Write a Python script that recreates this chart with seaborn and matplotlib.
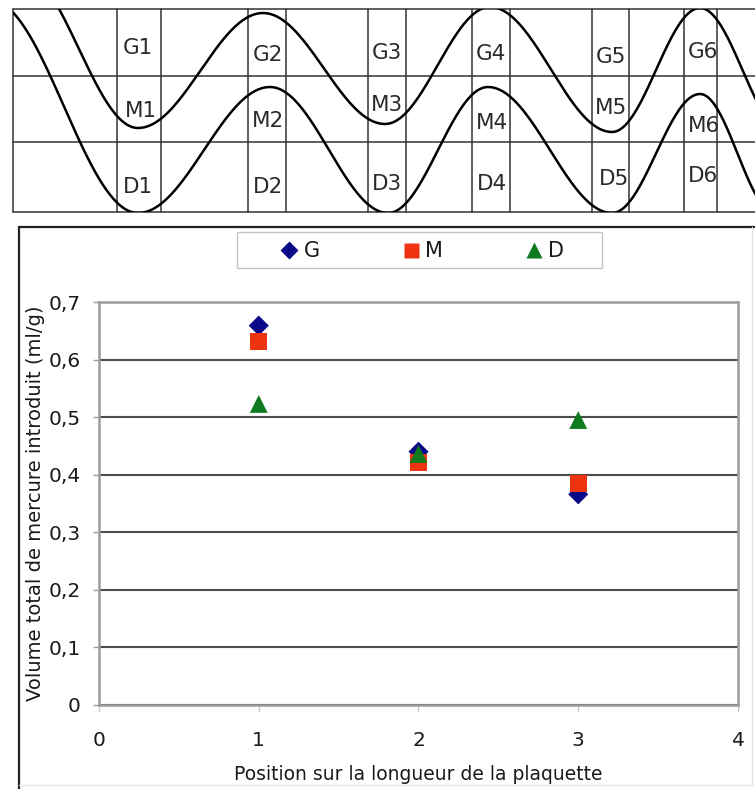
import numpy as np
import pandas as pd
import seaborn as sns
from matplotlib import pyplot as plt
from matplotlib.patches import Rectangle
from matplotlib.lines import Line2D

sns.set_style('white')
plt.rcParams['font.family'] = ['DejaVu Sans']

W, H = 755, 789  # figure size in pixels (dpi 100)

# scatter data: total mercury volume per position along the plate
positions = [1, 2, 3]
vol_G = [0.659, 0.440, 0.366]
vol_M = [0.631, 0.421, 0.384]
vol_D = [0.523, 0.436, 0.495]

series = ['G', 'M', 'D']
colors = {'G': '#0b0b8a', 'M': '#ee3310', 'D': '#107a1f'}
markers = {'G': 'D', 'M': 's', 'D': '^'}
sizes = {'G': 105, 'M': 150, 'D': 165}

x_ticks = [0, 1, 2, 3, 4]
y_ticks = [0, 0.1, 0.2, 0.3, 0.4, 0.5, 0.6, 0.7]
y_ticklabels = ['0', '0,1', '0,2', '0,3', '0,4', '0,5', '0,6', '0,7']

# sketch of the plate above the chart (pixel coordinates)
sketch_cols = [117, 161, 248, 286, 368, 406, 472, 510, 592, 629, 684, 717]
sketch_rows = [76, 142]
sketch_labels = ['G1', 'M1', 'D1', 'G2', 'M2', 'D2', 'G3', 'M3', 'D3',
                 'G4', 'M4', 'D4', 'G5', 'M5', 'D5', 'G6', 'M6', 'D6']
sketch_label_x = [138, 141, 138, 268, 268, 268, 387, 387, 387,
                  491, 492, 492, 611, 611, 614, 703, 704, 703]
sketch_label_y = [48, 111, 187, 55, 121, 187, 53, 105, 184,
                  54, 123, 184, 57, 108, 179, 52, 126, 176]
upper_x = [20, 138, 263, 385, 490, 612, 700, 785]
upper_y = [-30, 128, 13, 124, 7, 132, 8, 132]
lower_x = [-10, 138, 270, 388, 488, 612, 700, 775]
lower_y = [0, 213, 87, 213, 87, 213, 94, 213]


def wave(xs, ys, n=80):
    # smooth half-cosine between successive extrema of the sketch
    px, py = [], []
    for x0, y0, x1, y1 in zip(xs[:-1], ys[:-1], xs[1:], ys[1:]):
        t = np.linspace(0, 1, n)
        px.append(x0 + (x1 - x0) * t)
        py.append(y0 + (y1 - y0) * (1 - np.cos(np.pi * t)) / 2)
    return np.concatenate(px), np.concatenate(py)


fig = plt.figure(figsize=(W / 100, H / 100), dpi=100)
fig.patch.set_facecolor('white')

# background axes in pixel coordinates
bg = fig.add_axes([0, 0, 1, 1])
bg.set_xlim(0, W)
bg.set_ylim(H, 0)
bg.axis('off')

box_l, box_t, box_b = 12.5, 9, 212
line_c = '#333333'
bg.plot([box_l, W + 5], [box_t, box_t], color=line_c, lw=1.1)
bg.plot([box_l, W + 5], [box_b, box_b], color=line_c, lw=1.1)
bg.plot([box_l, box_l], [box_t, box_b], color=line_c, lw=1.1)
for yr in sketch_rows:
    bg.plot([box_l, W + 5], [yr, yr], color=line_c, lw=1.1)
for xc in sketch_cols:
    bg.plot([xc, xc], [box_t, box_b], color=line_c, lw=1.1)

clip = Rectangle((box_l, box_t), W, box_b - box_t, transform=bg.transData)
for xs, ys in [(upper_x, upper_y), (lower_x, lower_y)]:
    cx, cy = wave(xs, ys)
    ln, = bg.plot(cx, cy, color='black', lw=1.8, solid_capstyle='round')
    ln.set_clip_path(clip)

for lab, lx, ly in zip(sketch_labels, sketch_label_x, sketch_label_y):
    bg.text(lx, ly, lab, fontsize=15.5, color='#2a2a2a', ha='center', va='center')

# frame of the chart block
bg.plot([19, W + 5], [227, 227], color='#222222', lw=1.6)
bg.plot([19, 19], [227, H + 5], color='#222222', lw=1.6)
bg.plot([752, 752], [227, 785], color='#e4e4e4', lw=1)
bg.plot([19, 752], [785, 785], color='#e4e4e4', lw=1)

# legend frame
bg.add_patch(Rectangle((237, 232), 365, 36, facecolor='none',
                       edgecolor='#c4c4c4', lw=1))

# chart axes
x0, x1, y0, y1 = 99, 738, 302, 705
ax = fig.add_axes([x0 / W, 1 - y1 / H, (x1 - x0) / W, (y1 - y0) / H])
ax.set_facecolor('white')

df = pd.DataFrame({
    'position': positions * 3,
    'volume': vol_G + vol_M + vol_D,
    'serie': ['G'] * 3 + ['M'] * 3 + ['D'] * 3,
})
for s in series:
    sns.scatterplot(data=df[df['serie'] == s], x='position', y='volume',
                    marker=markers[s], s=sizes[s], color=colors[s],
                    edgecolor='none', linewidth=0, ax=ax, zorder=3,
                    legend=False)

ax.set_xlim(0, 4)
ax.set_ylim(0, 0.7)
ax.set_xticks(x_ticks)
ax.set_yticks(y_ticks)
ax.set_yticklabels(y_ticklabels)
ax.yaxis.grid(True, color='#4d4d4d', lw=1.5)
ax.set_axisbelow(True)
for sp in ax.spines.values():
    sp.set_color('#9c9c9c')
    sp.set_linewidth(1.8)
ax.tick_params(axis='y', direction='out', length=4.5, width=1, color='#9c9c9c',
               labelsize=14.5, labelcolor='#1a1a1a', pad=8.5, left=True)
ax.tick_params(axis='x', direction='out', length=5, width=1, color='#c8c8c8',
               labelsize=14.5, labelcolor='#1a1a1a', pad=14, bottom=True)

ax.set_xlabel('Position sur la longueur de la plaquette', fontsize=13.5,
              color='#1a1a1a', va='center')
ax.xaxis.set_label_coords((418 - x0) / (x1 - x0), (y1 - 775) / (y1 - y0))
ax.set_ylabel('Volume total de mercure introduit (ml/g)', fontsize=14,
              color='#1a1a1a', va='center')
ax.yaxis.set_label_coords((36 - x0) / (x1 - x0), (y1 - 503) / (y1 - y0))

handles = [
    Line2D([], [], ls='none', marker='D', markersize=9.5, color=colors['G'], mec='none'),
    Line2D([], [], ls='none', marker='s', markersize=10.8, color=colors['M'], mec='none'),
    Line2D([], [], ls='none', marker='^', markersize=11.5, color=colors['D'], mec='none'),
]
fig.legend(handles, series, loc='center', bbox_to_anchor=(421.6 / W, 1 - 251 / H),
           ncol=3, frameon=False, fontsize=15, handlelength=1.0,
           handletextpad=0.2, columnspacing=3.85, labelcolor='#1a1a1a')

fig.savefig('out.png', dpi=100, facecolor='white')
